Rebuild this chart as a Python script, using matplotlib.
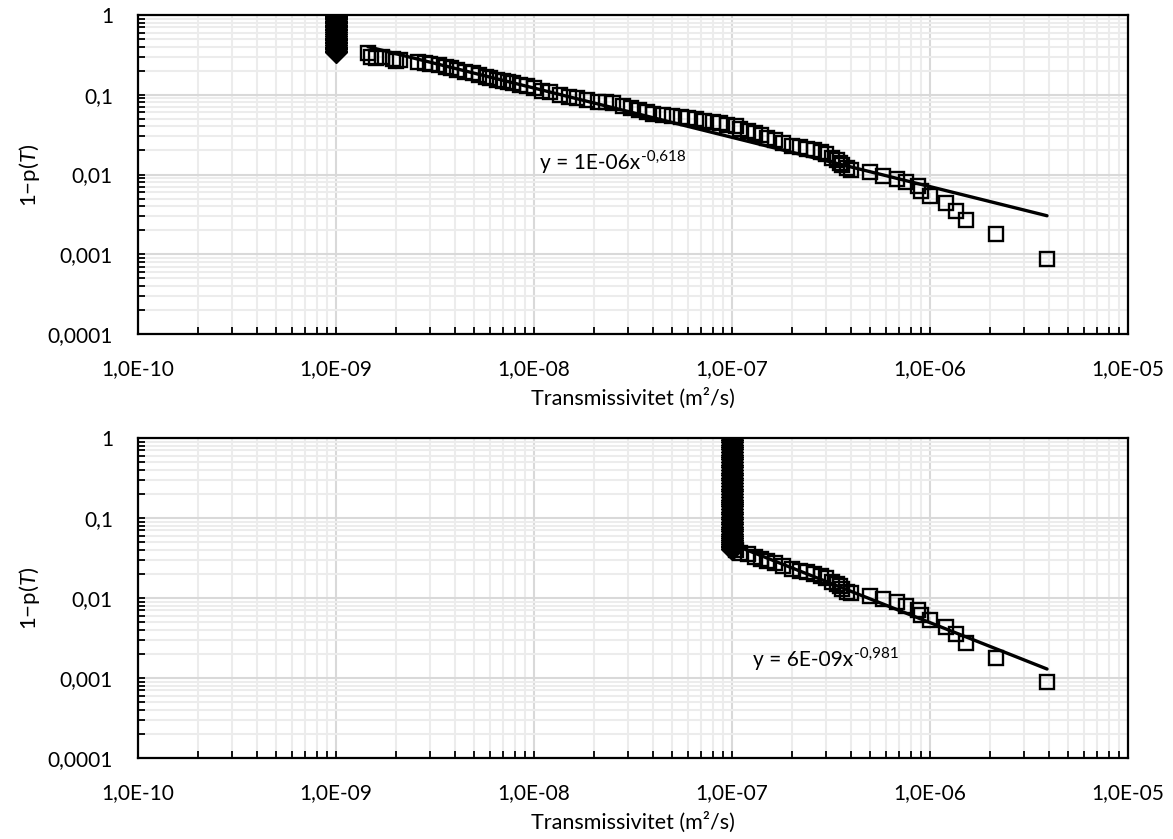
import numpy as np
import matplotlib
matplotlib.use("Agg")
import matplotlib.pyplot as plt
from matplotlib.ticker import LogLocator, NullFormatter
from matplotlib.text import Annotation

plt.rcParams['font.family'] = ['Lato', 'DejaVu Sans']
plt.rcParams['mathtext.fontset'] = 'custom'
plt.rcParams['mathtext.rm'] = 'Lato'
plt.rcParams['mathtext.it'] = 'Lato:italic'

# ---------------- data ----------------
# censored values (detection limit) – top: 1E-9, bottom: 1E-7
top_limit_x = 1e-9
top_limit_y = [1.0, 0.97, 0.94, 0.91, 0.88, 0.85, 0.82, 0.79, 0.76, 0.73, 0.7, 0.67, 0.64,
               0.61, 0.58, 0.55, 0.52, 0.5, 0.48, 0.46, 0.44, 0.42, 0.4, 0.385, 0.37, 0.355, 0.34]
bot_limit_x = 1e-7
bot_limit_y = [1.0, 0.94, 0.88, 0.82, 0.77, 0.72, 0.67, 0.62, 0.58, 0.54, 0.5, 0.465, 0.43,
               0.4, 0.37, 0.345, 0.32, 0.295, 0.27, 0.25, 0.23, 0.215, 0.2, 0.185, 0.17, 0.16,
               0.15, 0.14, 0.13, 0.12, 0.112, 0.104, 0.097, 0.09, 0.084, 0.078, 0.073, 0.068,
               0.064, 0.06, 0.056, 0.053, 0.05, 0.047, 0.045, 0.043, 0.041]

# measured transmissivities and exceedance probability
trans_x = [1.45e-9, 1.5e-9, 1.6e-9, 1.7e-9, 1.95e-9, 2.0e-9, 2.1e-9, 2.6e-9, 2.8e-9, 3.0e-9,
           3.3e-9, 3.6e-9, 3.8e-9, 4.1e-9, 4.5e-9, 4.9e-9, 5.3e-9, 5.7e-9, 6.0e-9, 6.5e-9,
           7.0e-9, 7.4e-9, 7.8e-9, 8.5e-9, 9.2e-9, 1.0e-8, 1.1e-8, 1.2e-8, 1.36e-8, 1.5e-8,
           1.65e-8, 1.85e-8, 2.1e-8, 2.3e-8, 2.5e-8, 2.8e-8, 3.1e-8, 3.4e-8, 3.7e-8, 4.0e-8,
           4.5e-8, 5.0e-8, 5.5e-8, 6.0e-8, 6.6e-8, 7.2e-8, 8.0e-8, 8.7e-8, 9.4e-8, 1.05e-7,
           1.1e-7, 1.2e-7, 1.3e-7, 1.4e-7, 1.5e-7, 1.65e-7, 1.8e-7, 2.0e-7, 2.2e-7, 2.4e-7,
           2.6e-7, 2.8e-7, 3.0e-7, 3.2e-7, 3.4e-7, 3.5e-7, 3.6e-7, 3.8e-7, 4.0e-7, 5.0e-7,
           5.8e-7, 6.8e-7, 7.6e-7, 8.7e-7, 9.0e-7, 1.0e-6, 1.2e-6, 1.35e-6, 1.52e-6, 2.15e-6,
           3.9e-6]
trans_p = [0.33, 0.30, 0.29, 0.295, 0.28, 0.265, 0.27, 0.26, 0.25, 0.245,
           0.235, 0.225, 0.215, 0.205, 0.195, 0.185, 0.175, 0.168, 0.16, 0.155,
           0.148, 0.144, 0.14, 0.133, 0.127, 0.12, 0.113, 0.108, 0.10, 0.095,
           0.09, 0.086, 0.082, 0.08, 0.078, 0.073, 0.069, 0.065, 0.061, 0.058,
           0.056, 0.054, 0.053, 0.051, 0.049, 0.047, 0.046, 0.044, 0.042, 0.040,
           0.037, 0.035, 0.033, 0.031, 0.029, 0.027, 0.025, 0.023, 0.022, 0.021,
           0.020, 0.019, 0.018, 0.016, 0.015, 0.014, 0.013, 0.012, 0.0115, 0.0106,
           0.0097, 0.0088, 0.0080, 0.0071, 0.0062, 0.0053, 0.0044, 0.0035, 0.0027, 0.00177,
           0.00088]

# power-law trendlines  y = a * x^b
top_fit_a, top_fit_b = 1.38e-6, -0.618
bot_fit_a, bot_fit_b = 6.4e-9, -0.981
top_fit_label, top_fit_exp = 'y = 1E-06x', '-0,618'
bot_fit_label, bot_fit_exp = 'y = 6E-09x', '-0,981'

x_ticks = [1e-10, 1e-9, 1e-8, 1e-7, 1e-6, 1e-5]
x_tick_labels = ['1,0E-10', '1,0E-09', '1,0E-08', '1,0E-07', '1,0E-06', '1,0E-05']
y_ticks = [1e-4, 1e-3, 1e-2, 1e-1, 1]
y_tick_labels = ['0,0001', '0,001', '0,01', '0,1', '1']

# ---------------- figure ----------------
W, H = 1173, 839
fig = plt.figure(figsize=(W / 100, H / 100), dpi=100)

def px_axes(l, t, r, b):
    return fig.add_axes([l / W, 1 - b / H, (r - l) / W, (b - t) / H])

ax_top = px_axes(138, 15, 1128, 334)
ax_bot = px_axes(138, 438, 1128, 758)

tx = np.array(trans_x)
tp = np.array(trans_p)

def style(ax):
    ax.set_xscale('log')
    ax.set_yscale('log')
    ax.set_xlim(1e-10, 1e-5)
    ax.set_ylim(1e-4, 1)
    ax.xaxis.set_minor_locator(LogLocator(base=10, subs=np.arange(2, 10), numticks=20))
    ax.yaxis.set_minor_locator(LogLocator(base=10, subs=np.arange(2, 10), numticks=20))
    ax.set_xticks(x_ticks)
    ax.set_xticklabels(x_tick_labels)
    ax.set_yticks(y_ticks)
    ax.set_yticklabels(y_tick_labels)
    ax.xaxis.set_minor_formatter(NullFormatter())
    ax.yaxis.set_minor_formatter(NullFormatter())
    ax.grid(which='major', color='#d9d9d9', lw=1.5, zorder=0)
    ax.grid(which='minor', color='#ececec', lw=1.5, zorder=0)
    ax.set_axisbelow(True)
    for s in ax.spines.values():
        s.set_linewidth(1.6)
        s.set_color('black')
    ax.tick_params(which='both', direction='in', color='black', width=1.3,
                   top=False, right=False, length=5)
    ax.tick_params(axis='x', which='major', pad=18, labelsize=15)
    ax.tick_params(axis='y', which='major', pad=18, labelsize=15)

style(ax_top)
style(ax_bot)

sq = dict(ls='none', marker='s', ms=10.5, mfc='none', mec='black', mew=1.7, zorder=4)
dm = dict(ls='none', marker='D', ms=11.5, mfc='black', mec='black', mew=1, zorder=3)

# top panel
ax_top.plot([top_limit_x] * len(top_limit_y), top_limit_y, **dm)
ax_top.plot(tx, tp, **sq)
fx = np.array([tx.min(), tx.max()])
ax_top.plot(fx, top_fit_a * fx ** top_fit_b, color='black', lw=2.4, zorder=5,
            solid_capstyle='round')

# bottom panel
mask = tx > bot_limit_x
ax_bot.plot([bot_limit_x] * len(bot_limit_y), bot_limit_y, **dm)
ax_bot.plot(tx[mask], tp[mask], **sq)
fx2 = np.array([tx[mask].min(), tx[mask].max()])
ax_bot.plot(fx2, bot_fit_a * fx2 ** bot_fit_b, color='black', lw=2.4, zorder=5,
            solid_capstyle='round')

# trendline equations
def equation(xp, yp, label, exp):
    t = fig.text(xp / W, 1 - yp / H, label, ha='left', va='center', fontsize=15)
    a = Annotation(exp, xy=(1.0, 1.0), xycoords=t, xytext=(0.5, 2.5),
                   textcoords='offset points', ha='left', va='top', fontsize=11)
    fig.add_artist(a)

equation(540, 163, top_fit_label, top_fit_exp)
equation(753, 660, bot_fit_label, bot_fit_exp)

# axis titles
for yc in (175, 598):
    fig.text(30 / W, 1 - yc / H, '1\u2212p($\\mathit{T}$)', rotation=90, ha='center',
             va='center', fontsize=16)
for yc in (398, 822):
    fig.text(633 / W, 1 - yc / H, 'Transmissivitet (m\u00b2/s)', ha='center', va='center',
             fontsize=15.5)

fig.savefig('out.png', dpi=100)
